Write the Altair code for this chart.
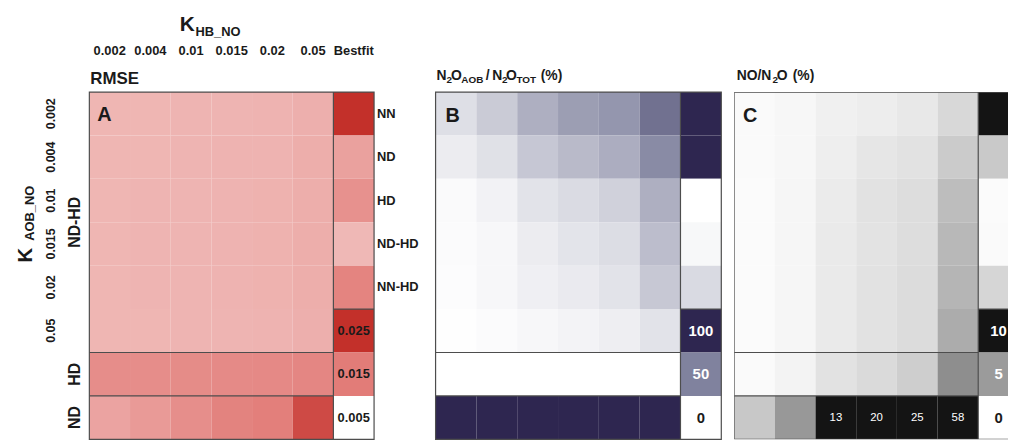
import altair as alt
import pandas as pd

# ---------------- data ----------------
k_hb_labels = ["0.002", "0.004", "0.01", "0.015", "0.02", "0.05", "Bestfit"]
k_aob_labels = ["0.002", "0.004", "0.01", "0.015", "0.02", "0.05"]
group_labels = ["ND-HD", "HD", "ND"]
bestfit_models = ["NN", "ND", "HD", "ND-HD", "NN-HD"]

# Panel A: RMSE
rmse_ndhd = [
    [0.0106, 0.0106, 0.0107, 0.0107, 0.0108, 0.0111],
    [0.0106, 0.0106, 0.0107, 0.0108, 0.0108, 0.0112],
    [0.0106, 0.0107, 0.0107, 0.0108, 0.0109, 0.0112],
    [0.0106, 0.0107, 0.0107, 0.0108, 0.0109, 0.0112],
    [0.0106, 0.0107, 0.0107, 0.0108, 0.0109, 0.0112],
    [0.0106, 0.0106, 0.0107, 0.0107, 0.0108, 0.0111],
]
rmse_hd = [0.0137, 0.0137, 0.0138, 0.0139, 0.0140, 0.0142]
rmse_nd = [0.0120, 0.0127, 0.0136, 0.0145, 0.0148, 0.0216]
rmse_bestfit = [0.0250, 0.0122, 0.0134, 0.0104, 0.0144]
rmse_scale_values = [0.025, 0.015, 0.005]
rmse_scale_labels = ["0.025", "0.015", "0.005"]

# Panel B: N2O_AOB / N2O_TOT (%)
aob_ndhd = [
    [13.0, 20.9, 31.9, 39.0, 42.0, 59.0],
    [7.5, 12.2, 22.4, 27.6, 32.7, 46.5],
    [2.0, 5.1, 11.4, 14.6, 18.5, 31.9],
    [1.6, 3.1, 7.5, 11.0, 13.8, 26.4],
    [1.2, 3.1, 6.3, 8.3, 11.4, 22.0],
    [0.4, 1.6, 3.1, 4.7, 6.7, 11.4],
]
aob_hd = [0, 0, 0, 0, 0, 0]
aob_nd = [100, 100, 100, 100, 100, 100]
aob_bestfit = [100, 100, 0, 3, 15]
aob_scale_values = [100, 50, 0]
aob_scale_labels = ["100", "50", "0"]

# Panel C: NO/N2O (%)
no_ndhd = [
    [0.25, 0.40, 0.75, 0.90, 1.15, 1.95],
    [0.25, 0.40, 0.85, 1.25, 1.45, 2.60],
    [0.20, 0.45, 1.00, 1.45, 1.70, 3.30],
    [0.20, 0.45, 1.05, 1.40, 1.70, 3.55],
    [0.20, 0.45, 1.05, 1.45, 1.75, 3.70],
    [0.20, 0.45, 1.05, 1.45, 1.75, 4.15],
]
no_hd = [0.25, 0.60, 1.45, 1.85, 2.45, 5.5]
no_nd = [2.75, 5.1, 13, 20, 25, 58]
no_bestfit = [10, 2.7, 0.2, 0.25, 2.05]
no_scale_values = [10, 5, 0]
no_scale_labels = ["10", "5", "0"]

# ---------------- helpers ----------------
FONT = "Liberation Sans"
INK = "#1a1a1a"
LINE = "#4d4d4d"
H = 350
N_MAIN = len(k_aob_labels)
N_COL = len(k_hb_labels) - 1
N_ROWS = N_MAIN + 2
N_BEST = len(bestfit_models)


def build_cells(ndhd, hd, nd, bestfit, sv, sl):
    recs = []
    for r, row in enumerate(ndhd):
        for c, v in enumerate(row):
            recs.append({"col": c, "row": r, "value": v, "kind": "main", "label": ""})
    for c, v in enumerate(hd):
        recs.append({"col": c, "row": N_MAIN, "value": v, "kind": "main", "label": ""})
    for c, v in enumerate(nd):
        recs.append({"col": c, "row": N_MAIN + 1, "value": v, "kind": "main", "label": ""})
    for r, v in enumerate(bestfit):
        recs.append({"col": N_COL, "row": r, "value": v, "kind": "best", "label": ""})
    for i, (v, t) in enumerate(zip(sv, sl)):
        recs.append({"col": N_COL, "row": len(bestfit) + i, "value": v, "kind": "legend", "label": t})
    df = pd.DataFrame(recs)
    over = (df["kind"] == "main") & (df["value"] > max(sv))
    df.loc[over, "label"] = df.loc[over, "value"].map(lambda v: f"{v:g}")
    df.loc[over, "kind"] = "over"
    df["col2"] = df["col"] + 1
    df["row2"] = df["row"] + 1
    df["xc"] = df["col"] + 0.5
    df["yc"] = df["row"] + 0.5
    return df


lines_df = pd.DataFrame([
    {"x": 0, "x2": N_COL, "y": N_MAIN, "y2": N_MAIN},
    {"x": 0, "x2": N_COL, "y": N_MAIN + 1, "y2": N_MAIN + 1},
    {"x": N_COL, "x2": N_COL, "y": 0, "y2": N_ROWS},
    {"x": N_COL, "x2": N_COL + 1, "y": N_BEST, "y2": N_BEST},
])
outline_df = pd.DataFrame([{"x": 0, "x2": N_COL + 1, "y": 0, "y2": N_ROWS}])


def note(text, x, y, size, weight="bold", align="left", baseline="alphabetic", angle=0, color=INK):
    return alt.Chart(pd.DataFrame({"t": [text]})).mark_text(
        align=align, baseline=baseline, fontSize=size, fontWeight=weight,
        angle=angle, color=color
    ).encode(text="t:N", x=alt.value(x), y=alt.value(y))


def panel(df, cdom, crange, white_thr, legend_size, width, xmax, clip, extras):
    xs = alt.Scale(domain=[0, xmax], nice=False, zero=False)
    ys = alt.Scale(domain=[0, N_ROWS], nice=False, zero=False, reverse=True)
    base = alt.Chart(df)
    rect = base.mark_rect(strokeWidth=0, clip=clip).encode(
        x=alt.X("col:Q", scale=xs, axis=None), x2="col2:Q",
        y=alt.Y("row:Q", scale=ys, axis=None), y2="row2:Q",
        color=alt.Color("value:Q", scale=alt.Scale(domain=cdom, range=crange, clamp=True,
                                                   interpolate="rgb"), legend=None),
    )
    leg_text = base.transform_filter("datum.kind == 'legend'").mark_text(
        fontSize=legend_size, fontWeight="bold", clip=clip
    ).encode(
        x=alt.X("xc:Q", scale=xs, axis=None), y=alt.Y("yc:Q", scale=ys, axis=None),
        text="label:N",
        color=alt.condition(f"datum.value >= {white_thr}", alt.value("white"), alt.value(INK)),
    )
    over_text = base.transform_filter("datum.kind == 'over'").mark_text(
        fontSize=11.5, color="white", clip=clip
    ).encode(
        x=alt.X("xc:Q", scale=xs, axis=None), y=alt.Y("yc:Q", scale=ys, axis=None),
        text="label:N",
    )
    rules = alt.Chart(lines_df).mark_rule(color=LINE, strokeWidth=1.2, clip=clip).encode(
        x=alt.X("x:Q", scale=xs, axis=None), x2="x2:Q",
        y=alt.Y("y:Q", scale=ys, axis=None), y2="y2:Q",
    )
    outline = alt.Chart(outline_df).mark_rect(
        fillOpacity=0, stroke=LINE, strokeWidth=1.2, clip=clip
    ).encode(
        x=alt.X("x:Q", scale=xs, axis=None), x2="x2:Q",
        y=alt.Y("y:Q", scale=ys, axis=None), y2="y2:Q",
    )
    layers = [rect, leg_text, over_text, rules, outline] + [e(xs, ys) if callable(e) else e for e in extras]
    return alt.layer(*layers).properties(width=width, height=H)


# ---------------- panel A extras ----------------
def col_labels(xs, ys):
    d = pd.DataFrame({"lab": k_hb_labels, "xc": [i + 0.5 for i in range(len(k_hb_labels))]})
    return alt.Chart(d).mark_text(fontSize=13, fontWeight="bold", baseline="alphabetic", color=INK).encode(
        x=alt.X("xc:Q", scale=xs, axis=None), y=alt.value(-37), text="lab:N")


def row_labels(xs, ys):
    d = pd.DataFrame({"lab": k_aob_labels, "yc": [i + 0.5 for i in range(len(k_aob_labels))]})
    return alt.Chart(d).mark_text(fontSize=12.5, fontWeight="bold", angle=270, align="center",
                                  baseline="middle", color=INK).encode(
        y=alt.Y("yc:Q", scale=ys, axis=None), x=alt.value(-39), text="lab:N")


def grp_labels(xs, ys):
    d = pd.DataFrame({"lab": group_labels, "yc": [N_MAIN / 2, N_MAIN + 0.5, N_MAIN + 1.5]})
    return alt.Chart(d).mark_text(fontSize=16, fontWeight="bold", angle=270, align="center",
                                  baseline="middle", color=INK).encode(
        y=alt.Y("yc:Q", scale=ys, axis=None), x=alt.value(-14), text="lab:N")


def model_labels(xs, ys):
    d = pd.DataFrame({"lab": bestfit_models, "yc": [i + 0.5 for i in range(len(bestfit_models))]})
    return alt.Chart(d).mark_text(fontSize=13, fontWeight="bold", align="left",
                                  baseline="middle", color=INK).encode(
        y=alt.Y("yc:Q", scale=ys, axis=None), x=alt.value(290), text="lab:N")


anchor = alt.Chart(pd.DataFrame({"t": [0]})).mark_rule(strokeOpacity=0).encode(
    x=alt.value(-82), x2=alt.value(-80), y=alt.value(-83), y2=alt.value(-81))

extras_a = [
    col_labels, row_labels, grp_labels, model_labels, anchor,
    note("K", 91, -62, 21),
    note("HB_NO", 107, -56.5, 13),
    note("K", -58, 172, 21, angle=270),
    note("AOB_NO", -56, 150, 13, angle=270),
    note("RMSE", 1, -8, 17),
    note("A", 8, 29, 20),
]

extras_b = [
    note("N", 1, -12.5, 14), note("2", 11, -9.5, 10), note("O", 15.5, -12.5, 14),
    note("AOB", 26, -9.5, 10), note("/", 50.5, -12.5, 14),
    note("N", 57, -12.5, 14), note("2", 67, -9.5, 10), note("O", 71, -12.5, 14),
    note("TOT", 81.5, -9.5, 10), note("(%)", 106, -12.5, 14),
    note("B", 10, 30, 20),
]

extras_c = [
    note("NO/N", 2.5, -12.5, 14), note("2", 38.5, -9.5, 10), note("O", 43, -12.5, 14),
    note("(%)", 59, -12.5, 14),
    note("C", 9, 30, 20),
]

df_a = build_cells(rmse_ndhd, rmse_hd, rmse_nd, rmse_bestfit, rmse_scale_values, rmse_scale_labels)
df_b = build_cells(aob_ndhd, aob_hd, aob_nd, aob_bestfit, aob_scale_values, aob_scale_labels)
df_c = build_cells(no_ndhd, no_hd, no_nd, no_bestfit, no_scale_values, no_scale_labels)

pA = panel(df_a, [0.005, 0.015, 0.025], ["#ffffff", "#e27c78", "#c3302a"], 1e9, 13,
           287, N_COL + 1, False, extras_a)
pB = panel(df_b, [0, 50, 100], ["#ffffff", "#80829e", "#2e2650"], 50, 15,
           288, N_COL + 1, False, extras_b)
pC = panel(df_c, [0, 5, 10], ["#ffffff", "#9b9b9b", "#141414"], 5, 15,
           276, 276 / 41.0, True, extras_c)

right = alt.hconcat(pB, pC, spacing=13, bounds="flush").resolve_scale(
    color="independent", x="independent", y="independent")
chart = alt.hconcat(pA, right, spacing=62, bounds="flush").resolve_scale(
    color="independent", x="independent", y="independent").properties(padding=0)
chart = chart.configure(font=FONT).configure_view(strokeWidth=0)

chart.save("out.html", embed_options={"renderer": "svg", "actions": False})
